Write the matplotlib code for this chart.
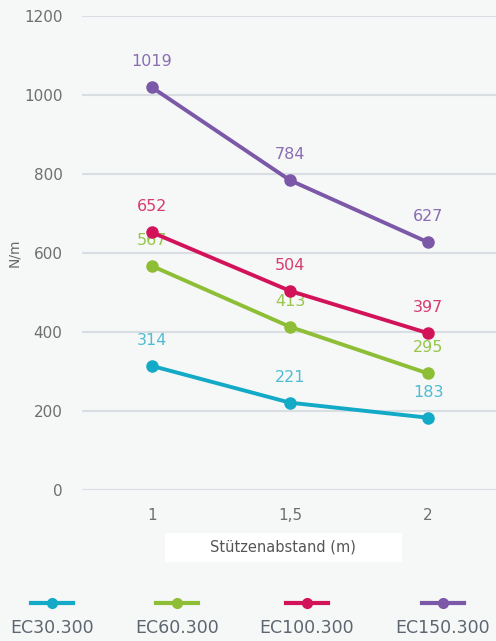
import matplotlib
matplotlib.use("Agg")
import matplotlib.pyplot as plt
from matplotlib.lines import Line2D
from matplotlib.patches import Rectangle

x_vals = [1, 1.5, 2]
x_labels = ["1", "1,5", "2"]
series_names = ["EC30.300", "EC60.300", "EC100.300", "EC150.300"]
ec30 = [314, 221, 183]
ec60 = [567, 413, 295]
ec100 = [652, 504, 397]
ec150 = [1019, 784, 627]
y_ticks = [0, 200, 400, 600, 800, 1000, 1200]

line_colors = ["#12aac6", "#8dbe36", "#d2135a", "#7b58a8"]
label_colors = ["#4fbcd2", "#97c64a", "#d83a72", "#8a6db3"]
bg = "#f6f7f7"

plt.rcParams['font.family'] = ['DejaVu Sans']

fig = plt.figure(figsize=(4.96, 6.41), dpi=100, facecolor=bg)
ax = fig.add_axes([82/496, 1-490/641, 1-82/496, (490-16)/641])
ax.set_facecolor(bg)

data = [ec30, ec60, ec100, ec150]
for vals, lc, tc in zip(data, line_colors, label_colors):
    ax.plot(x_vals, vals, color=lc, lw=2.8, marker='o', ms=8, solid_capstyle='round', zorder=3, clip_on=False)
    for xv, yv in zip(x_vals, vals):
        ax.annotate(str(yv), (xv, yv), xytext=(0, 18.5), textcoords='offset points',
                    ha='center', va='center', color=tc, fontsize=11.5)

ax.set_xlim(0.746, 2.246)
ax.set_ylim(0, 1200)
ax.set_yticks(y_ticks)
ax.set_xticks(x_vals)
ax.set_xticklabels(x_labels)
ax.grid(axis='y', color='#d9dee3', lw=1.5, zorder=0)
ax.grid(axis='x', visible=False)
for s in ax.spines.values():
    s.set_visible(False)
ax.tick_params(axis='both', length=0, colors='#6f6f6f', labelsize=11)
ax.tick_params(axis='y', pad=14)
ax.tick_params(axis='x', pad=13)
ax.set_ylabel("N/m", color='#6a6a6a', fontsize=10)
ax.yaxis.set_label_coords(-0.148, 0.5)

fig.add_artist(Rectangle((165/496, 1-562/641), (402-165)/496, 29/641,
                         transform=fig.transFigure, fc='white', ec='none'))
fig.text(283/496, 1-547/641, "Stützenabstand (m)", ha='center', va='center', fontsize=10.5,
         color='#555555')

# legend
centers = [52, 177, 307, 443]
for cx, name, lc in zip(centers, series_names, line_colors):
    fx = cx/496
    fy = 1-603/641
    fig.add_artist(Line2D([fx-21/496, fx+21/496], [fy, fy], color=lc, lw=3,
                          transform=fig.transFigure))
    fig.add_artist(Line2D([fx], [fy], color=lc, marker='o', ms=7, ls='none',
                          transform=fig.transFigure))
    fig.text(fx, 1-628/641, name, ha='center', va='center', fontsize=12.5, color='#5d6670')

fig.savefig("out.png", dpi=100, facecolor=bg)
